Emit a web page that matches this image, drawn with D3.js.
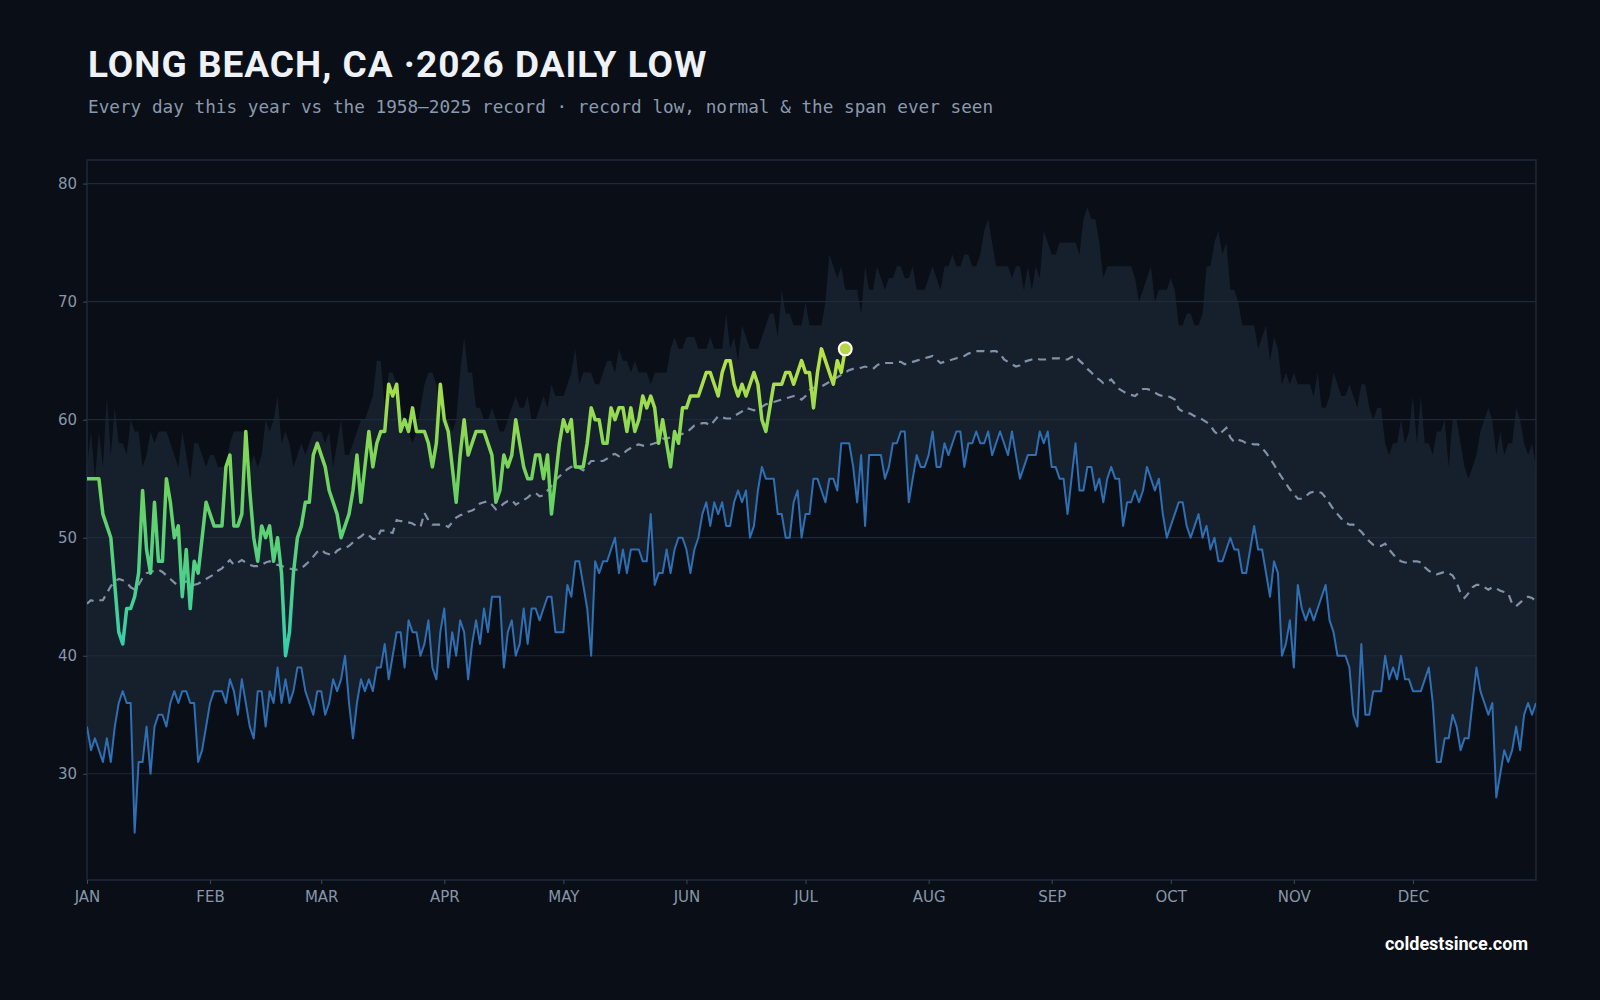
<!DOCTYPE html>
<meta charset="utf-8">
<title>Long Beach, CA 2026 daily low</title>
<style>
  body { margin: 0; background: #0a0e16; }
  svg { display: block; }
  .tick text { fill: #8796aa; font-family: "DejaVu Sans", sans-serif; font-size: 15px; }
  .tick line { stroke: #3a4a5e; }
  .domain { display: none; }
</style>
<body>
<script src="https://cdn.jsdelivr.net/npm/d3@7"></script>
<script>

// record high of the daily low, 1958-2025 (index 0 = Jan 1, last index sits on the right edge)
var recordHigh = [
  56,59,55,59,56,62,57,61,58,58, 57,60,59,59,56,57,59,58,59,59,
  59,58,57,56,59,57,55,58,58,57, 56,57,57,56,56,56,58,59,59,59,
  59,56,57,56,57,60,59,60,62,58, 59,58,56,57,58,57,58,59,59,59,
  58,59,56,58,60,57,57,58,59,60, 60,61,62,65,65,61,64,64,63,61,
  60,59,58,59,61,63,64,64,63,61, 60,60,59,60,64,67,64,64,61,61,
  60,60,61,60,59,59,60,61,62,61, 61,62,60,60,61,62,61,63,62,62,
  62,63,64,66,63,64,64,64,63,63, 64,65,65,64,66,65,65,64,65,64,
  64,64,63,64,64,64,64,66,67,66, 66,67,67,67,66,66,66,67,66,66,
  66,69,66,67,65,68,67,66,66,66, 67,68,69,69,67,71,69,69,68,68,
  68,70,68,68,68,68,70,74,73,72, 73,71,71,71,71,69,73,71,71,73,
  72,71,72,72,73,73,72,72,73,71, 71,71,72,73,72,71,73,73,74,73,
  73,74,74,73,73,74,76,77,75,73, 73,73,73,72,73,73,71,73,71,73,
  72,76,75,74,74,75,75,75,75,75, 74,77,78,77,77,75,72,73,73,73,
  73,73,73,73,72,70,71,72,73,70, 71,71,71,72,71,68,68,69,69,68,
  68,69,73,73,75,76,74,75,71,71, 70,68,68,68,68,66,67,68,65,67,
  66,63,64,63,64,63,63,63,63,62, 64,61,61,62,64,63,62,62,63,62,
  61,63,63,61,60,61,61,58,57,58, 58,60,58,59,62,58,62,58,58,57,
  59,59,60,56,60,60,58,56,55,56, 57,59,60,61,60,57,59,57,58,58,
  61,60,58,57,58,56
];

// record low of the daily low, 1958-2025
var recordLow = [
  34,32,33,32,31,33,31,34,36,37, 36,36,25,31,31,34,30,34,35,35,
  34,36,37,36,37,37,36,36,31,32, 34,36,37,37,37,36,38,37,35,38,
  36,34,33,37,37,34,37,36,39,36, 38,36,37,39,39,37,36,35,37,37,
  35,36,38,37,38,40,36,33,36,38, 37,38,37,39,39,41,38,40,42,42,
  39,43,42,42,40,41,43,39,38,42, 44,39,42,40,43,42,38,41,43,41,
  44,42,45,45,45,39,42,43,40,41, 44,41,44,44,43,44,45,45,42,42,
  42,46,45,48,48,46,44,40,48,47, 48,48,49,50,47,49,47,49,49,49,
  48,48,52,46,47,47,49,47,49,50, 50,49,47,49,50,52,53,51,53,52,
  53,51,51,53,54,53,54,50,51,54, 56,55,55,55,52,52,50,50,53,54,
  50,52,52,55,55,54,53,55,55,54, 58,58,58,56,53,57,51,57,57,57,
  57,55,56,58,58,59,59,53,55,57, 56,56,57,59,56,56,58,57,58,59,
  59,56,58,58,59,58,58,59,57,58, 59,58,57,59,57,55,56,57,57,57,
  59,58,59,56,56,55,55,52,55,58, 54,54,56,56,54,55,53,55,56,55,
  55,51,53,53,54,53,54,56,55,54, 55,52,50,51,52,53,53,51,50,51,
  52,50,51,49,50,48,48,49,50,49, 49,47,47,49,51,49,49,47,45,48,
  47,40,41,43,39,46,44,43,44,43, 44,45,46,43,42,40,40,40,39,35,
  34,41,35,35,37,37,37,40,38,39, 38,40,38,38,37,37,37,38,39,36,
  31,31,33,33,35,34,32,33,33,36, 39,37,36,35,36,28,30,32,31,32,
  34,32,35,36,35,36
];

// normal daily low
var normal = [
  44.4,44.7,44.6,44.7,44.7,45.3,45.9,46.3,46.5,46.4, 46.2,45.8,45.6,46.0,46.6,47.0,47.1,47.2,47.3,47.1,
  46.8,46.5,46.2,45.9,46.1,46.3,46.2,46.0,46.1,46.3, 46.5,46.7,46.9,47.2,47.4,47.8,48.1,47.7,47.9,48.1,
  47.9,47.7,47.6,47.6,47.7,47.9,48.0,47.8,47.7,47.6, 47.5,47.4,47.3,47.3,47.4,47.7,48.0,48.4,48.8,49.0,
  48.7,48.6,48.5,48.9,49.1,49.1,49.3,49.6,49.9,50.1, 50.4,50.2,49.9,49.9,50.6,50.6,50.5,50.4,51.5,51.4,
  51.4,51.3,51.2,51.0,50.9,52.1,51.5,51.1,51.1,51.1, 51.1,50.9,51.3,51.7,51.9,52.0,52.2,52.3,52.5,52.9,
  53.0,53.1,52.8,52.4,52.6,52.9,53.1,53.2,52.8,53.0, 53.2,53.4,53.7,53.8,53.5,53.6,54.0,54.4,54.9,55.2,
  55.5,55.8,56.0,56.1,55.9,55.7,56.1,56.5,56.5,56.5, 56.5,56.7,57.0,57.1,56.9,57.1,57.4,57.6,57.8,57.9,
  57.8,57.8,57.9,58.0,58.1,58.4,58.4,58.5,58.6,58.7, 58.8,58.9,59.2,59.5,59.6,59.7,59.7,59.5,59.9,60.3,
  60.2,60.1,60.1,60.3,60.5,60.7,61.0,60.9,60.8,60.9, 61.1,61.3,61.4,61.5,61.6,61.7,61.8,61.9,62.0,61.9,
  61.7,62.0,62.5,62.7,62.8,62.8,63.0,63.2,63.4,63.6, 63.8,64.0,64.2,64.3,64.3,64.4,64.5,64.4,64.3,64.6,
  64.8,64.8,64.8,64.8,64.9,64.9,64.7,64.8,64.9,65.0, 65.1,65.2,65.3,65.4,65.1,64.8,64.9,65.0,65.1,65.2,
  65.3,65.4,65.6,65.7,65.8,65.8,65.8,65.7,65.8,65.8, 65.6,65.1,64.9,64.7,64.5,64.6,64.9,65.0,65.1,65.2,
  65.1,65.1,65.1,65.2,65.2,65.2,65.1,65.1,65.3,65.4, 65.0,64.7,64.3,64.0,63.6,63.4,63.1,63.2,63.4,63.0,
  62.6,62.4,62.2,62.1,62.0,62.3,62.6,62.6,62.5,62.3, 62.1,62.0,62.0,61.9,61.7,60.9,60.7,60.6,60.5,60.3,
  60.2,60.0,59.8,59.5,59.0,58.7,59.0,59.3,58.5,58.1, 58.3,58.2,58.0,58.0,57.9,57.9,57.6,57.2,56.7,56.2,
  55.6,55.1,54.6,54.1,53.7,53.3,53.3,53.5,53.8,53.9, 53.9,53.8,53.4,52.9,52.4,52.0,51.6,51.3,51.1,51.1,
  50.8,50.5,50.1,49.7,49.4,49.3,49.3,49.5,49.0,48.6, 48.2,48.0,47.9,47.9,48.0,48.0,47.9,47.5,47.2,47.0,
  46.9,47.0,47.1,47.0,46.8,46.2,45.3,44.9,45.3,45.8, 46.0,46.0,45.8,45.6,45.8,45.7,45.5,45.4,45.3,44.4,
  44.2,44.5,44.8,45.0,44.9,44.6
];

// 2026 observed daily low, Jan 1 - Jul 11
var year2026 = [
  55,55,55,55,52,51,50,46,42,41, 44,44,45,47,54,49,47,53,48,48,
  55,53,50,51,45,49,44,48,47,50, 53,52,51,51,51,56,57,51,51,52,
  59,54,50,48,51,50,51,48,50,47, 40,42,47,50,51,53,53,57,58,57,
  56,54,53,52,50,51,52,54,57,53, 56,59,56,58,59,59,63,62,63,59,
  60,59,61,59,59,59,58,56,58,63, 60,59,56,53,57,60,57,58,59,59,
  59,58,57,53,54,57,56,57,60,58, 56,55,55,57,57,55,57,52,55,58,
  60,59,60,56,56,56,58,61,60,60, 58,58,61,60,61,61,59,61,59,60,
  62,61,62,61,58,60,58,56,59,58, 61,61,62,62,62,63,64,64,63,62,
  64,65,65,63,62,63,62,63,64,63, 60,59,61,63,63,63,64,64,63,64,
  65,64,64,61,64,66,65,64,63,65, 64,66
];

var months = ["JAN","FEB","MAR","APR","MAY","JUN","JUL","AUG","SEP","OCT","NOV","DEC"];
var yTicks = [30, 40, 50, 60, 70, 80];

var width = 1600, height = 1000;
var margin = {top: 160, right: 64, bottom: 120, left: 87};

var start = new Date(2026, 0, 1);
function dayDate(i) { return d3.timeDay.offset(start, i); }

var x = d3.scaleTime()
  .domain([start, new Date(2027, 0, 1)])
  .range([margin.left, width - margin.right]);

var y = d3.scaleLinear()
  .domain([21, 82])
  .range([height - margin.bottom, margin.top]);

var svg = d3.select("body").append("svg")
  .attr("width", width)
  .attr("height", height);

svg.append("rect")
  .attr("width", width).attr("height", height)
  .attr("fill", "#0a0e16");

var defs = svg.append("defs");
var grad = defs.append("linearGradient")
  .attr("id", "yearGrad")
  .attr("gradientUnits", "userSpaceOnUse")
  .attr("x1", 0).attr("x2", 0)
  .attr("y1", y(40)).attr("y2", y(66));
grad.append("stop").attr("offset", "0%").attr("stop-color", "#33cfae");
grad.append("stop").attr("offset", "55%").attr("stop-color", "#6cd35f");
grad.append("stop").attr("offset", "100%").attr("stop-color", "#bde245");

defs.append("clipPath").attr("id", "plotClip")
  .append("rect")
  .attr("x", margin.left).attr("y", margin.top)
  .attr("width", width - margin.left - margin.right)
  .attr("height", height - margin.top - margin.bottom);

// span ever seen
var band = d3.area()
  .x(function(d, i) { return x(dayDate(i)); })
  .y0(function(d, i) { return y(recordLow[i]); })
  .y1(function(d) { return y(d); });

svg.append("path")
  .datum(recordHigh)
  .attr("d", band)
  .attr("fill", "#161f2c");

// grid
svg.append("g")
  .selectAll("line")
  .data(yTicks)
  .enter().append("line")
  .attr("x1", margin.left).attr("x2", width - margin.right)
  .attr("y1", function(d) { return y(d); })
  .attr("y2", function(d) { return y(d); })
  .attr("stroke", "#1e2939")
  .attr("stroke-width", 1.2);

// frame
svg.append("rect")
  .attr("x", margin.left).attr("y", margin.top)
  .attr("width", width - margin.left - margin.right)
  .attr("height", height - margin.top - margin.bottom)
  .attr("fill", "none")
  .attr("stroke", "#1e2a3a")
  .attr("stroke-width", 1.5);

var line = d3.line()
  .x(function(d, i) { return x(dayDate(i)); })
  .y(function(d) { return y(d); });

var plot = svg.append("g").attr("clip-path", "url(#plotClip)");

plot.append("path")
  .datum(recordLow)
  .attr("d", line)
  .attr("fill", "none")
  .attr("stroke", "#2f6fb3")
  .attr("stroke-width", 2)
  .attr("stroke-linejoin", "round");

plot.append("path")
  .datum(normal)
  .attr("d", line)
  .attr("fill", "none")
  .attr("stroke", "#8192a7")
  .attr("stroke-width", 2.2)
  .attr("stroke-dasharray", "8 6");

plot.append("path")
  .datum(year2026)
  .attr("d", line)
  .attr("fill", "none")
  .attr("stroke", "url(#yearGrad)")
  .attr("stroke-width", 3.5)
  .attr("stroke-linejoin", "round");

var last = year2026.length - 1;
svg.append("circle")
  .attr("cx", x(dayDate(last)))
  .attr("cy", y(year2026[last]))
  .attr("r", 6.5)
  .attr("fill", "#b6d647")
  .attr("stroke", "#ffffff")
  .attr("stroke-width", 2);

// axes
svg.append("g")
  .attr("transform", "translate(" + margin.left + ",0)")
  .call(d3.axisLeft(y).tickValues(yTicks).tickSize(4).tickPadding(6));

svg.append("g")
  .attr("transform", "translate(0," + (height - margin.bottom) + ")")
  .call(d3.axisBottom(x)
    .tickValues(d3.range(12).map(function(m) { return new Date(2026, m, 1); }))
    .tickFormat(function(d) { return months[d.getMonth()]; })
    .tickSize(4).tickPadding(7));

// titles
svg.append("text")
  .attr("x", 88).attr("y", 77)
  .attr("fill", "#eef2f7")
  .style("font-family", "Roboto, sans-serif")
  .style("font-weight", 700)
  .style("font-size", "37px")
  .style("letter-spacing", "1px")
  .text("LONG BEACH, CA ·2026 DAILY LOW");

svg.append("text")
  .attr("x", 88).attr("y", 113)
  .attr("fill", "#8a9aae")
  .style("font-family", "'DejaVu Sans Mono', monospace")
  .style("font-size", "17.7px")
  .text("Every day this year vs the 1958–2025 record · record low, normal & the span ever seen");

svg.append("text")
  .attr("x", 1528).attr("y", 950)
  .attr("text-anchor", "end")
  .attr("fill", "#ffffff")
  .style("font-family", "Roboto, sans-serif")
  .style("font-weight", 700)
  .style("font-size", "18px")
  .text("coldestsince.com");

</script>
</body>
